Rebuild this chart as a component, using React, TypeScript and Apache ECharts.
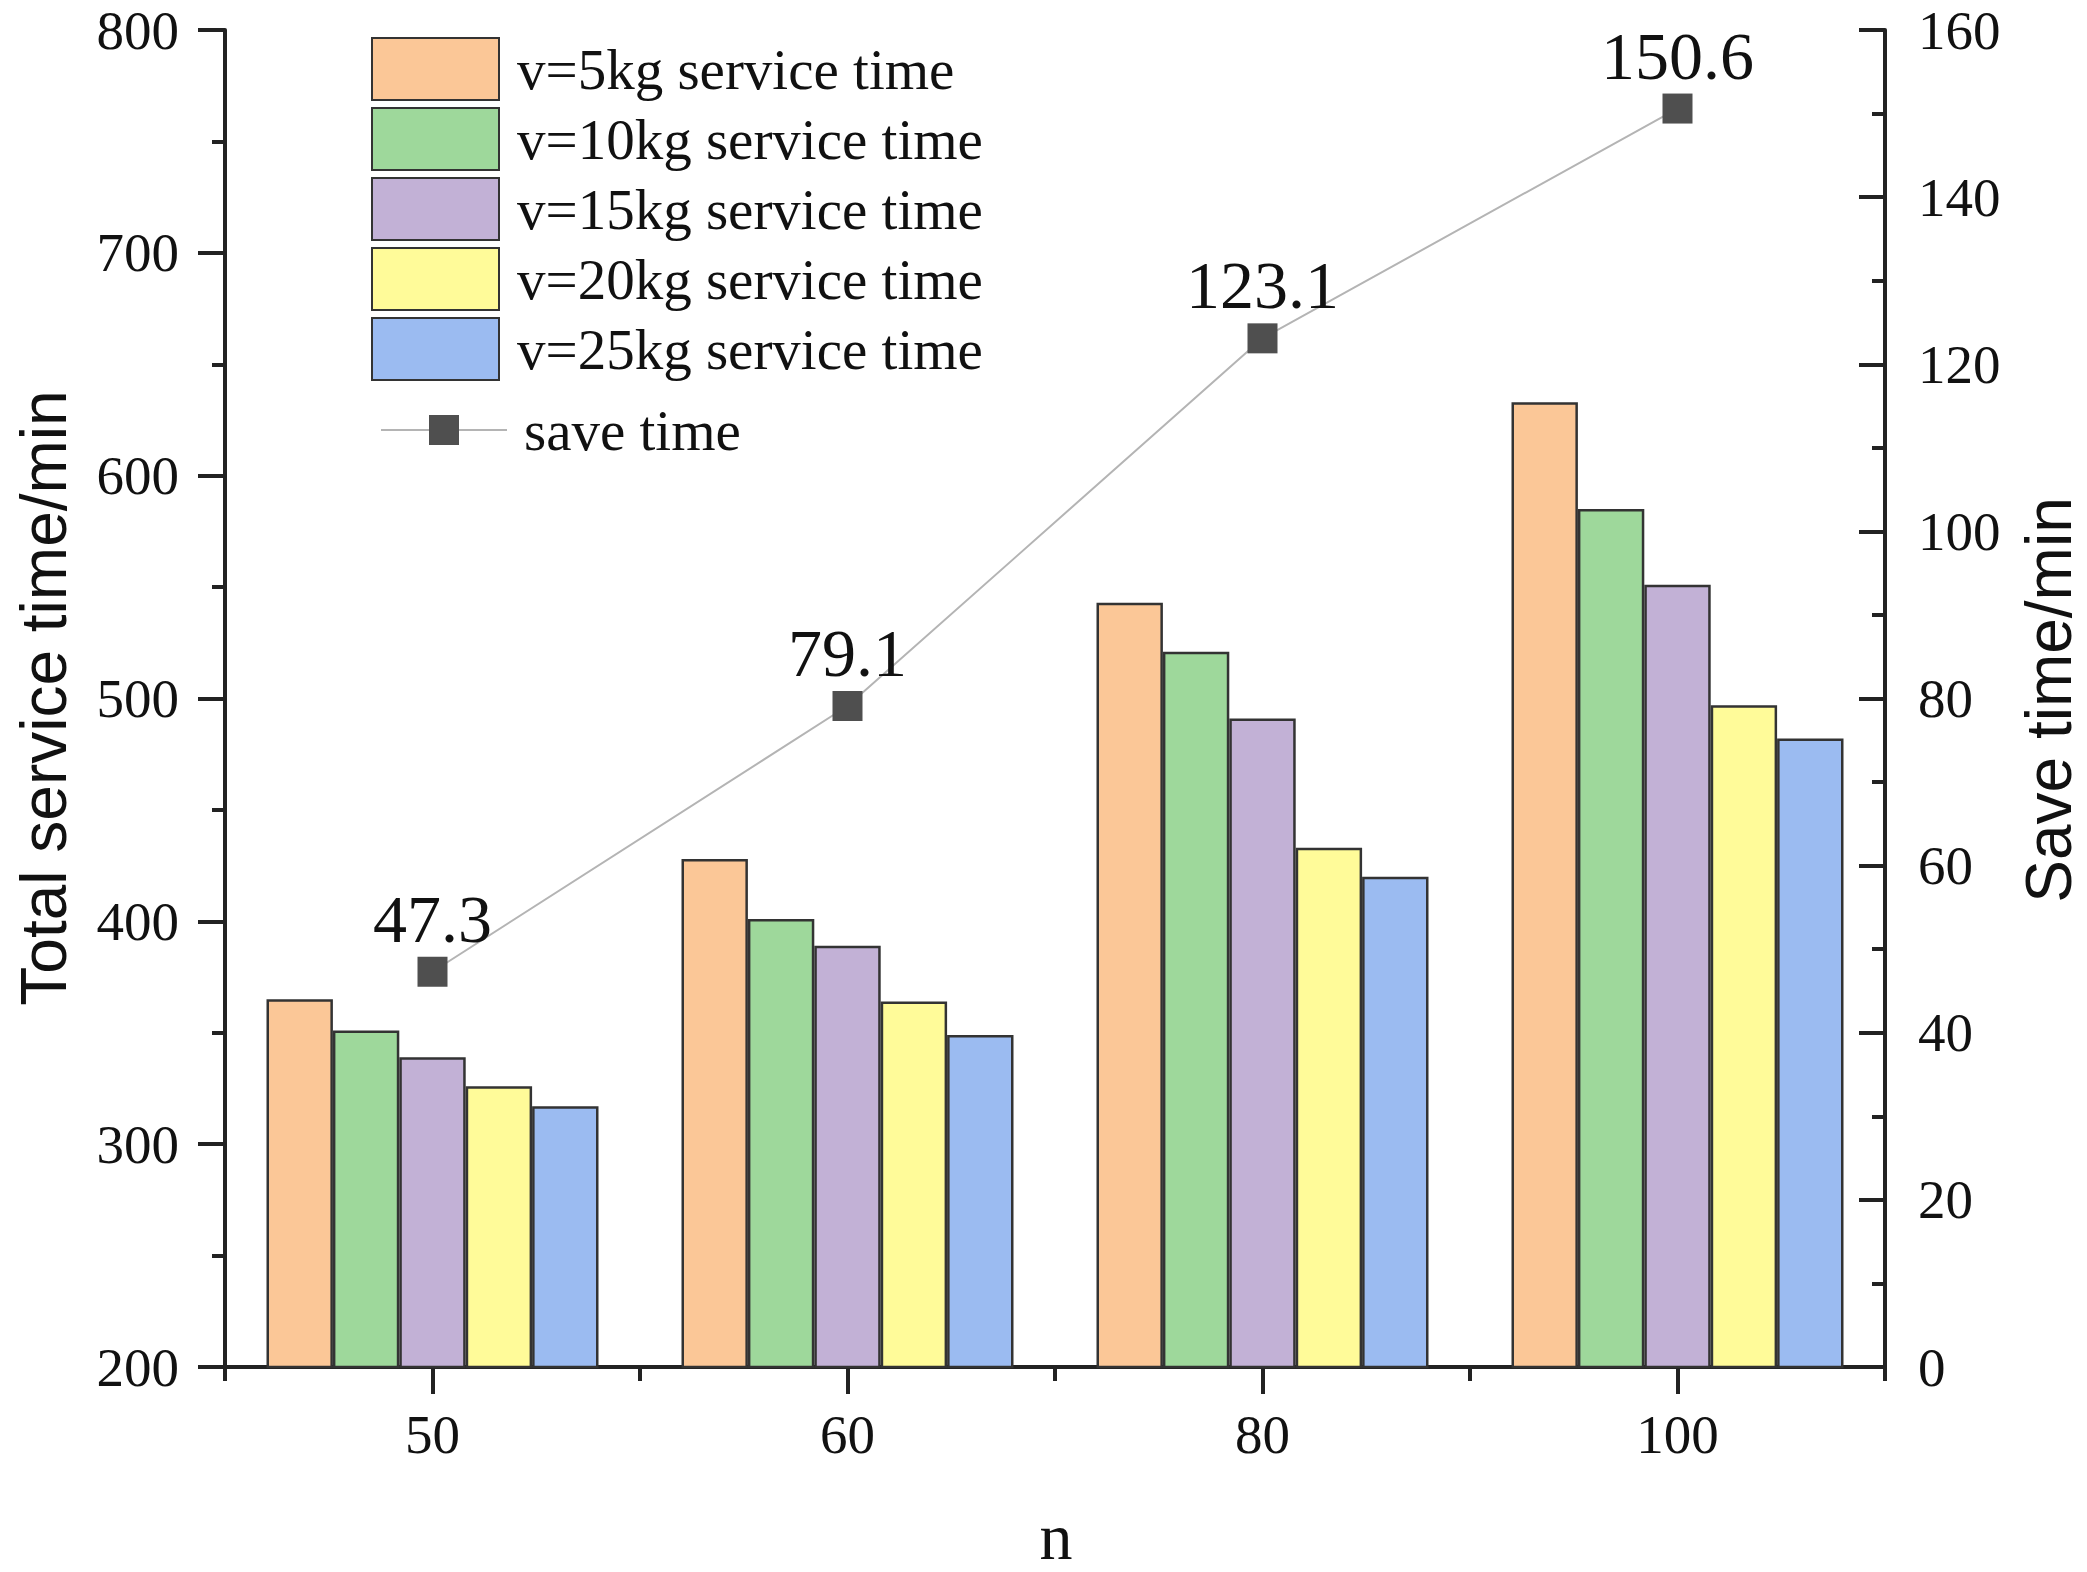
import React, { useEffect, useRef } from "react";
import * as echarts from "echarts";

const categories = ["50", "60", "80", "100"];
const barNames = [
  "v=5kg service time",
  "v=10kg service time",
  "v=15kg service time",
  "v=20kg service time",
  "v=25kg service time",
];
const v5 = [365, 428, 543, 633];
const v10 = [351, 401, 521, 585];
const v15 = [339, 389, 491, 551];
const v20 = [326, 364, 433, 497];
const v25 = [317, 349, 420, 482];
const saveName = "save time";
const saveTime = [47.3, 79.1, 123.1, 150.6];
const barColors = ["#FBC797", "#9ED89B", "#C2B1D6", "#FFFB99", "#9BBBF1"];
const leftTicks = { min: 200, max: 800, interval: 100 };
const rightTicks = { min: 0, max: 160, interval: 20 };

const SERIF = "'Liberation Serif', 'Times New Roman', serif";
const SANS = "'Liberation Sans', Arial, sans-serif";
const AX = "#222";

export default function App() {
  const ref = useRef<HTMLDivElement>(null);
  useEffect(() => {
    if (!ref.current) return;
    const chart = echarts.init(ref.current, undefined, { renderer: "svg" });
    const barData = [v5, v10, v15, v20, v25];
    const barSeries = barData.map((d, i) => ({
      name: barNames[i],
      type: "bar",
      xAxisIndex: 0,
      yAxisIndex: 0,
      data: d,
      barGap: "0%",
      barCategoryGap: "20%",
      itemStyle: { color: barColors[i], borderColor: "#333", borderWidth: 2.5 },
    }));
    const option: any = {
      animation: false,
      backgroundColor: "#fff",
      grid: { left: 225, right: 202, top: 30, bottom: 205, containLabel: false },
      legend: [
        {
          data: barNames,
          orient: "vertical",
          left: 371,
          top: 37,
          padding: 0,
          icon: "rect",
          itemWidth: 127,
          itemHeight: 62,
          itemGap: 6,
          selectedMode: false,
          textStyle: { fontFamily: SERIF, fontSize: 57, lineHeight: 58, color: "#111", padding: [0, 0, 0, 13] },
        },
        {
          data: [saveName],
          orient: "vertical",
          left: 380,
          top: 401,
          padding: 0,
          itemWidth: 126,
          itemHeight: 37.5,
          selectedMode: false,
          textStyle: { fontFamily: SERIF, fontSize: 57, lineHeight: 58, color: "#111", padding: [0, 0, 0, 12] },
        },
      ],
      xAxis: [
        {
          type: "category",
          data: categories,
          position: "bottom",
          axisLine: { show: true, lineStyle: { color: AX, width: 4 } },
          axisTick: { show: true, alignWithLabel: true, inside: false, length: 27, lineStyle: { color: AX, width: 4 } },
          axisLabel: { fontFamily: SERIF, fontSize: 55, color: "#111", margin: 40 },
          splitLine: { show: false },
        },
        {
          type: "category",
          data: categories,
          position: "bottom",
          axisLine: { show: false },
          axisTick: { show: true, alignWithLabel: false, inside: false, length: 14, lineStyle: { color: AX, width: 4 } },
          axisLabel: { show: false },
          splitLine: { show: false },
        },
      ],
      yAxis: [
        {
          type: "value",
          position: "left",
          min: leftTicks.min,
          max: leftTicks.max,
          interval: leftTicks.interval,
          axisLine: { show: true, lineStyle: { color: AX, width: 4 } },
          axisTick: { show: true, inside: false, length: 27, lineStyle: { color: AX, width: 4 } },
          minorTick: { show: true, splitNumber: 2, length: 13, lineStyle: { color: AX, width: 4 } },
          axisLabel: { fontFamily: SERIF, fontSize: 55, color: "#111", margin: 46 },
          splitLine: { show: false },
        },
        {
          type: "value",
          position: "right",
          min: rightTicks.min,
          max: rightTicks.max,
          interval: rightTicks.interval,
          axisLine: { show: true, lineStyle: { color: AX, width: 4 } },
          axisTick: { show: true, inside: true, length: 26, lineStyle: { color: AX, width: 4 } },
          minorTick: { show: true, splitNumber: 2, length: 13, lineStyle: { color: AX, width: 4 } },
          axisLabel: { fontFamily: SERIF, fontSize: 55, color: "#111", margin: 33 },
          splitLine: { show: false },
        },
      ],
      series: [
        ...barSeries,
        {
          name: saveName,
          type: "line",
          xAxisIndex: 0,
          yAxisIndex: 1,
          data: saveTime,
          symbol: "rect",
          symbolSize: 30,
          z: 5,
          lineStyle: { color: "#B4B4B4", width: 2 },
          itemStyle: { color: "#4F4F4F" },
          label: {
            show: true,
            position: "top",
            distance: 4,
            fontFamily: SERIF,
            fontSize: 68,
            color: "#111",
          },
        },
      ],
      graphic: [
        {
          type: "text",
          x: 44,
          y: 698,
          rotation: Math.PI / 2,
          style: { text: "Total service time/min", font: `64px ${SANS}`, fill: "#111", textAlign: "center", textVerticalAlign: "middle" },
        },
        {
          type: "text",
          x: 2049,
          y: 700,
          rotation: Math.PI / 2,
          style: { text: "Save time/min", font: `64px ${SANS}`, fill: "#111", textAlign: "center", textVerticalAlign: "middle" },
        },
        {
          type: "text",
          x: 1056,
          y: 1536,
          style: { text: "n", font: `66px ${SERIF}`, fill: "#111", textAlign: "center", textVerticalAlign: "middle" },
        },
      ],
    };
    chart.setOption(option);
    return () => chart.dispose();
  }, []);
  return (
    <div
      ref={ref}
      style={{ position: "fixed", left: 0, top: 0, width: "2087px", height: "1572px", background: "#fff" }}
    />
  );
}
